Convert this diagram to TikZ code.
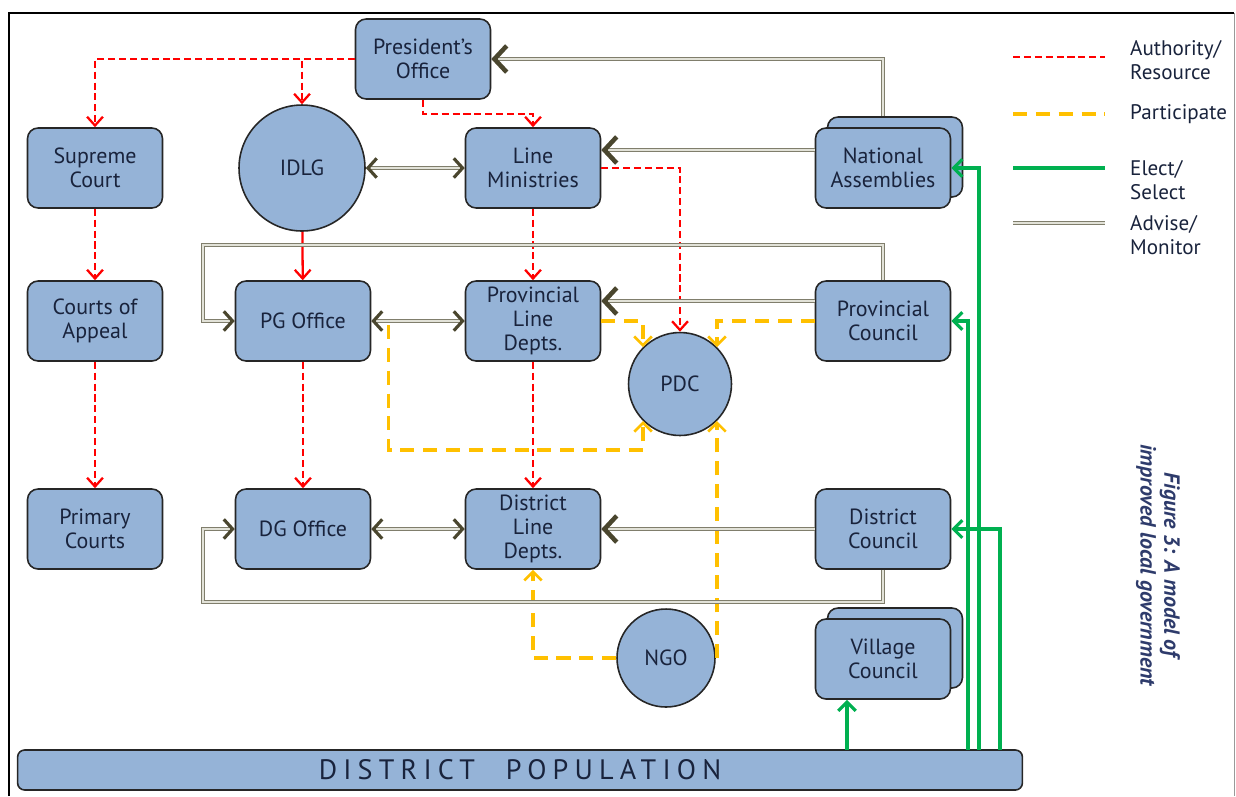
\documentclass[tikz,border=0pt]{standalone}
\usepackage{fontspec}
\setmainfont{PT Sans}
\definecolor{boxblue}{RGB}{149, 179, 215}
\definecolor{boxtext}{RGB}{25, 35, 60}
\definecolor{authred}{RGB}{255, 0, 0}
\definecolor{partyellow}{RGB}{255, 192, 0}
\definecolor{electgreen}{RGB}{0, 176, 80}
\definecolor{advline}{RGB}{128, 126, 108}
\definecolor{advfill}{RGB}{226, 226, 216}
\definecolor{advtip}{RGB}{74, 70, 46}
\definecolor{capblue}{RGB}{46, 59, 107}
\usetikzlibrary{shapes, arrows.meta, positioning, calc}

\tikzset{
  box/.style={draw=black!85, fill=boxblue, rounded corners=6pt, line width=0.9pt,
    minimum width=2.7cm, minimum height=1.6cm, inner sep=2pt, align=center,
    text=boxtext, font=\fontsize{12.5}{13.6}\selectfont},
  round/.style={draw=black!85, fill=boxblue, circle, line width=0.9pt, inner sep=0pt,
    text=boxtext, font=\fontsize{12.5}{13.6}\selectfont},
  auth/.style={authred, line width=1.3pt, dash pattern=on 4pt off 2.2pt,
    -{Straight Barb[length=5pt, width=9pt]}},
  authsolid/.style={authred, line width=1.3pt, -{Straight Barb[length=5pt, width=9pt]}},
  part/.style={partyellow, line width=1.9pt, dash pattern=on 8pt off 5pt,
    -{Straight Barb[length=5pt, width=10pt, line width=1.5pt]}},
  elect/.style={electgreen, line width=2pt,
    -{Straight Barb[length=5pt, width=10pt, line width=1.8pt]}},
  adv/.style={draw=advline, double=advfill, line width=0.75pt, double distance=1.1pt},
  advtwo/.style={adv, {Straight Barb[length=5pt, width=11pt, line width=1.8pt, color=advtip]}-{Straight Barb[length=5pt, width=11pt, line width=1.8pt, color=advtip]}},
  advto/.style={adv, -{Straight Barb[length=5pt, width=11pt, line width=1.8pt, color=advtip]}},
  advbig/.style={adv, -{Straight Barb[length=7pt, width=15pt, line width=2.6pt, color=advtip]}},
  legend/.style={anchor=west, text=boxtext, align=left, font=\fontsize{12}{13.6}\selectfont}
}

\begin{document}
\begin{tikzpicture}[x=0.02cm, y=-0.02cm]
  \useasboundingbox (0,0) rectangle (1236,796);
  \draw[line width=1.3pt] (9,796) -- (9,13) -- (1234,13);
  \draw[black!40, line width=0.5pt] (1234,13) -- (1234,796);

  \node[box] (pres) at (423,59) {President's\\Office};
  \node[box] (sup) at (95,168) {Supreme\\Court};
  \node[round, minimum size=2.52cm] (idlg) at (302,168) {IDLG};
  \node[box] (lm) at (533,168) {Line\\Ministries};
  \node[box] (naback) at (895,157) {};
  \node[box] (na) at (883,168) {National\\Assemblies};

  \node[box] (coa) at (95,321) {Courts of\\Appeal};
  \node[box] (pg) at (303,321) {PG Office};
  \node[box] (pld) at (533,321) {Provincial\\Line\\Depts.};
  \node[box] (pc) at (883,321) {Provincial\\Council};
  \node[round, minimum size=2.06cm] (pdc) at (680,384) {PDC};

  \node[box] (prim) at (95,529) {Primary\\Courts};
  \node[box] (dg) at (303,529) {DG Office};
  \node[box] (dld) at (533,529) {District\\Line\\Depts.};
  \node[box] (dc) at (883,529) {District\\Council};
  \node[round, minimum size=1.96cm] (ngo) at (666,658) {NGO};
  \node[box] (vcback) at (895,648) {};
  \node[box] (vc) at (883,659) {Village\\Council};

  \node[box, rounded corners=4pt, minimum width=20.1cm, minimum height=0.8cm,
    font=\fontsize{16}{18}\selectfont\addfontfeature{LetterSpace=22}] (pop) at (520,770) {DISTRICT\hspace{1.1em}POPULATION};

  \coordinate (advtop) at (203,245);
  \coordinate (advbot) at (203,602);
  \coordinate (pcvote) at (968,750);
  \coordinate (navote) at (979,750);
  \coordinate (dcvote) at (1000,750);
  \coordinate (vcvote) at (847,750);

  \draw[auth] (pres.west) -| (sup.north);
  \draw[auth] (pres.west) -| (idlg.north);
  \draw[auth] (pres.south) -- ++(0,14) -| (lm.north);
  \draw[auth] (sup) -- (coa);
  \draw[auth] (coa) -- (prim);
  \draw[authsolid] (idlg) -- (pg);
  \draw[auth] (pg) -- (dg);
  \draw[auth] (lm) -- (pld);
  \draw[auth] (pld) -- (dld);
  \draw[auth] (lm.east) -| (pdc.north);

  \draw[part] (pld.east) -| (pdc.135);
  \draw[part] (pc.west) -| (pdc.45);
  \draw[part] ([xshift=0.34cm, yshift=-0.08cm]pg.east) |- ([yshift=-0.58cm]pdc.-135) -- (pdc.-135);
  \draw[part] (pdc.-45 |- ngo.east) -- (pdc.-45);
  \draw[part] (ngo.west) -| (dld.south);

  \draw[advbig] (na.north |- naback.north) |- (pres.east);
  \draw[advbig] ([yshift=0.36cm]na.west) -- ([yshift=0.36cm]lm.east);
  \draw[advtwo] (idlg) -- (lm);
  \draw[advto] (pc.north) |- (advtop) |- (pg.west);
  \draw[advbig] ([yshift=0.4cm]pc.west) -- ([yshift=0.4cm]pld.east);
  \draw[advtwo] (pg) -- (pld);
  \draw[advtwo] (dg) -- (dld);
  \draw[advbig] (dc.west) -- (dld.east);
  \draw[advto] (dc.south) |- (advbot) |- (dg.west);

  \draw[elect] (pcvote) |- (pc.east);
  \draw[elect] (navote) |- (na.east);
  \draw[elect] (dcvote) |- (dc.east);
  \draw[elect] (vcvote) -- (vcvote |- vc.south);

  \draw[authred, line width=1.3pt, dash pattern=on 4pt off 2.2pt] (1013,57) -- (1105,57);
  \draw[partyellow, line width=1.9pt, dash pattern=on 8pt off 5pt] (1013,114) -- (1105,114);
  \draw[electgreen, line width=2pt] (1013,168) -- (1105,168);
  \draw[adv] (1013,223) -- (1105,223);
  \node[legend] (lauth) at (1124,60) {Authority/\\Resource};
  \node[legend] (lpart) at (1124,114) {Participate};
  \node[legend] (lelect) at (1124,180) {Elect/\\Select};
  \node[legend] (ladv) at (1124,235) {Advise/\\Monitor};

  \node[rotate=-90, align=center, text=capblue, font=\fontsize{12.5}{13.6}\selectfont\bfseries\itshape] (cap) at (1158,565) {Figure 3: A model of\\improved local government};
\end{tikzpicture}
\end{document}
